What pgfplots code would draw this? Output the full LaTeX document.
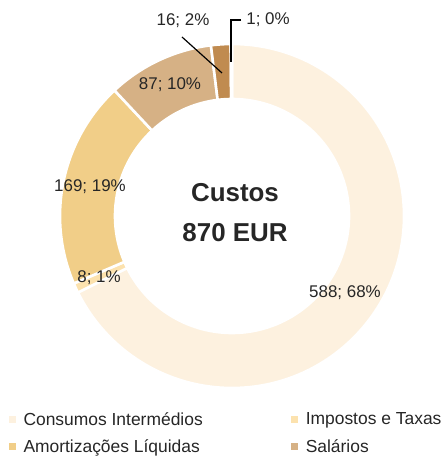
\documentclass[border=0pt]{standalone}
\usepackage{pgfplots}
\pgfplotsset{compat=1.18}
\usepackage{fontspec}
\setmainfont{Liberation Sans}
\definecolor{c1}{HTML}{FDF1DF}
\definecolor{c2}{HTML}{FCE2AE}
\definecolor{c3}{HTML}{F1CE88}
\definecolor{c4}{HTML}{D6B185}
\definecolor{c5}{HTML}{C08B50}
\definecolor{c6}{HTML}{9E6A35}
\definecolor{txt}{HTML}{262626}
\def\slices{588/c1, 8/c2, 169/c3, 87/c4, 16/c5, 1/c6}
\begin{document}
\begin{tikzpicture}
\begin{axis}[hide axis, scale only axis, width=443bp, height=457bp,
  xmin=0, xmax=443, ymin=0, ymax=457, clip=false,
  legend columns=2, legend cell align=left,
  legend style={at={(axis cs:9,46)}, anchor=north west, draw=none, fill=none,
    inner sep=0pt, outer sep=0pt, font=\fontsize{17.5}{20}\selectfont, text=txt,
    row sep=10bp, /tikz/every even column/.append style={column sep=87bp},
    nodes={inner sep=1.5bp}},
  legend image code/.code={\fill[#1, draw=none] (0bp,-3.5bp) rectangle (7bp,3.5bp); \path[draw=none, fill=none] (0bp,0bp) -- (13bp,0bp);},
]
\path (rel axis cs:0,0) rectangle (rel axis cs:1,1);
% total
\gdef\tot{0}
\foreach \v/\c in \slices {\pgfmathsetmacro\t{\tot+\v}\xdef\tot{\t}}
\gdef\acc{90}
\foreach \v/\c in \slices {
  \pgfmathsetmacro\e{\acc-\v/\tot*360}
  \pgfmathsetmacro\eb{\e+180}
  \edef\tmp{\noexpand\filldraw[fill=\c, draw=white, line width=2.6bp]
    (axis cs:232,241) ++(\acc:172bp) arc[start angle=\acc, end angle=\e, radius=172bp]
    -- ++(\eb:55bp) arc[start angle=\e, end angle=\acc, radius=117bp] -- cycle;}
  \tmp
  \xdef\acc{\e}
}
\addlegendimage{fill=c1}\addlegendentry{Consumos Intermédios}
\addlegendimage{fill=c2}\addlegendentry{Impostos e Taxas}
\addlegendimage{fill=c3}\addlegendentry{Amortizações Líquidas}
\addlegendimage{fill=c4}\addlegendentry{Salários}
\begin{scope}[every node/.style={font=\fontsize{17}{20}\selectfont, text=txt}]
\node at (axis cs:345,164) {588; 68\%};
\node at (axis cs:99,179) {8; 1\%};
\node at (axis cs:90,270) {169; 19\%};
\node at (axis cs:170,372) {87; 10\%};
\node at (axis cs:183,436) {16; 2\%};
\node at (axis cs:268,437) {1; 0\%};
\end{scope}
\draw[black, line width=1.2bp] (axis cs:182,420) -- (axis cs:222,384);
\draw[black, line width=1.2bp] (axis cs:241,437) -- (axis cs:231,437) -- (axis cs:231,395);
\node[font=\bfseries\fontsize{26}{30}\selectfont, text=txt] at (axis cs:235,264) {Custos};
\node[font=\bfseries\fontsize{26}{30}\selectfont, text=txt] at (axis cs:235,224) {870 EUR};
\end{axis}
\end{tikzpicture}
\end{document}
